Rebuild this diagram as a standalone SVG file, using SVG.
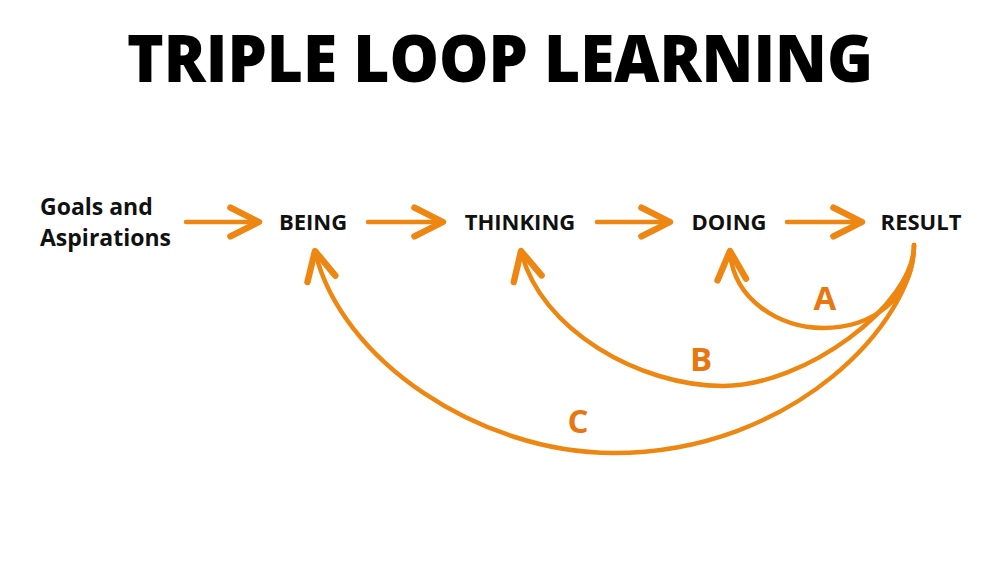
<svg xmlns="http://www.w3.org/2000/svg" width="1000" height="563" viewBox="0 0 1000 563">
<defs>
<style>
.title{font-family:"Open Sans","Liberation Sans",sans-serif;font-weight:800;font-size:66px;fill:#000}
.lbl{font-family:"Open Sans","Liberation Sans",sans-serif;font-weight:700;font-size:22px;fill:#111}
.goal{font-size:23px}
.loop{font-family:"Open Sans","Liberation Sans",sans-serif;font-weight:700;font-size:33px;fill:#E8770F}
.arr{fill:none;stroke:#EE8712;stroke-width:4.5;stroke-linecap:round;stroke-linejoin:round;marker-end:url(#chev)}
</style>
<marker id="chev" markerUnits="userSpaceOnUse" markerWidth="40" markerHeight="40" viewBox="-24 -14 28 28" refX="0" refY="0" orient="auto">
<path d="M-20,-10 L0,0 L-20,10" fill="none" stroke="#EE8712" stroke-width="4.5" stroke-linecap="round" stroke-linejoin="round"/>
</marker>
</defs>
<rect width="1000" height="563" fill="#fff"/>
<text class="title" x="500" y="82" text-anchor="middle" textLength="746" lengthAdjust="spacingAndGlyphs">TRIPLE LOOP LEARNING</text>
<g id="goals"><text class="lbl goal" x="40" y="215">Goals and</text><text class="lbl goal" x="40" y="246">Aspirations</text></g>
<g id="being"><text class="lbl" x="313" y="230" text-anchor="middle">BEING</text></g>
<g id="thinking"><text class="lbl" x="520" y="230" text-anchor="middle">THINKING</text></g>
<g id="doing"><text class="lbl" x="729" y="230" text-anchor="middle">DOING</text></g>
<g id="result"><text class="lbl" x="921" y="230" text-anchor="middle">RESULT</text></g>
<g id="connectors">
<path class="arr" d="M186,222 L259,222"/>
<path class="arr" d="M368,222 L443,222"/>
<path class="arr" d="M597,222 L670,222"/>
<path class="arr" d="M787,222 L862,222"/>
<path class="arr" d="M914,245 C914,300 870,328 823,328 C780,328 733,300 730,251"/>
<path class="arr" d="M914,245 C914,305 805,386 723,386 C640,386 540,330 521,251"/>
<path class="arr" d="M914,245 C914,320 795,453 613,453 C480,453 340,360 315,251"/>
</g>
<g id="labels">
<text class="loop" x="825" y="310" text-anchor="middle">A</text>
<text class="loop" x="701" y="371" text-anchor="middle">B</text>
<text class="loop" x="578" y="433" text-anchor="middle">C</text>
</g>
</svg>
